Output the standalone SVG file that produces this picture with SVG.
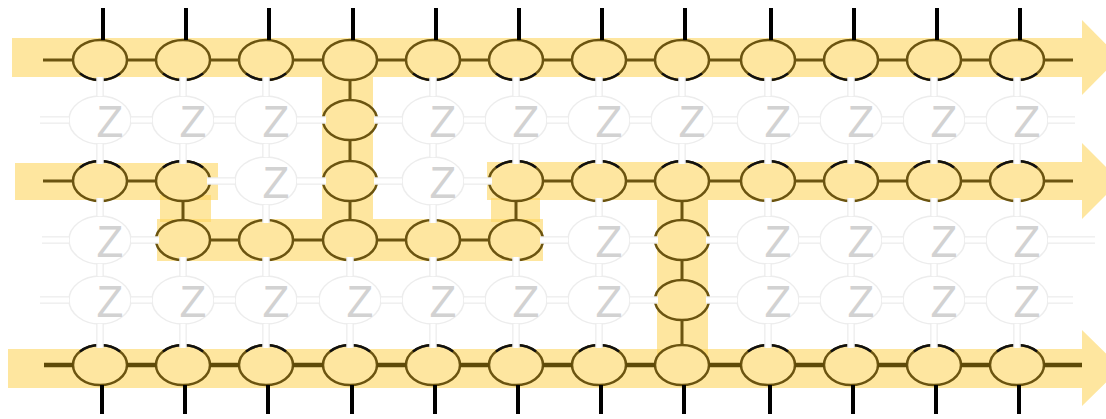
<svg xmlns="http://www.w3.org/2000/svg" xmlns:xlink="http://www.w3.org/1999/xlink" width="1106" height="419" viewBox="0 0 1106 419">
<style>
.band{fill:#fdd55f;fill-opacity:0.6}
.yn{fill:#fee6a0;stroke:#6b5410;stroke-width:2.5}
.gn{fill:#ffffff;stroke:#ededed;stroke-width:1.5}
.z{font-family:"Liberation Sans",Arial,sans-serif;font-size:44px;fill:#d2d2d2;text-anchor:middle}
.arc{fill:none;stroke:#111;stroke-width:2.5}
.dc{fill:none;stroke:#6b5410;stroke-width:3}
.dc6{fill:none;stroke:#5e4a08;stroke-width:4.5}
.lo{fill:none;stroke:#ececec;stroke-width:7.5}
.li{fill:none;stroke:#ffffff;stroke-width:5}
.bk{fill:none;stroke:#000;stroke-width:4}
</style>
<defs>
<path id="lc" d="M40 120H69M131 120H152M214 120H235M297 120H326M374 120H402M464 120H485M547 120H568M630 120H651M713 120H737M799 120H820M882 120H903M965 120H986M1048 120H1075
M207 181H235M297 181H326M374 181H402M464 181H492
M42 240H69M131 240H159M540 240H568M630 240H658M706 240H737M799 240H820M882 240H903M965 240H986M1048 240H1095
M40 300H69M131 300H152M214 300H235M297 300H319M381 300H402M464 300H485M547 300H568M630 300H658M706 300H737M799 300H820M882 300H903M965 300H986M1048 300H1073
M100 77V96M183 77V96M266 77V96M433 77V96M516 77V96M599 77V96M682 77V96M768 77V96M851 77V96M934 77V96M1017 77V96
M100 144V164M183 144V164M266 144V157M433 144V157M516 144V164M599 144V164M682 144V164M768 144V164M851 144V164M934 144V164M1017 144V164
M100 198V216M266 205V223M433 205V223M599 198V216M768 198V216M851 198V216M934 198V216M1017 198V216
M100 264V276M183 257V276M266 257V276M350 257V276M433 257V276M516 257V276M599 264V276M768 264V276M851 264V276M934 264V276M1017 264V276
M100 324V348M183 324V348M266 324V348M350 324V348M433 324V348M516 324V348M599 324V348M768 324V348M851 324V348M934 324V348M1017 324V348"/>
</defs>
<rect width="1106" height="419" fill="#ffffff"/>
<g id="bands">
<path class="band" d="M12 38H1082V20L1119 57.5L1082 95V77H12Z"/>
<rect class="band" x="15" y="163" width="203" height="37"/>
<path class="band" d="M487 162H1082V143L1120 181L1082 219V200H487Z"/>
<rect class="band" x="157" y="219" width="386" height="42"/>
<path class="band" d="M8 349H1082V330L1121 368L1082 406V388H8Z"/>
<rect class="band" x="322" y="77" width="51" height="142"/>
<rect class="band" x="160" y="195" width="51" height="27"/>
<rect class="band" x="491" y="198" width="49" height="24"/>
<rect class="band" x="657" y="200" width="51" height="157"/>
</g>
<g id="nodes">
<g id="n0-0"><ellipse class="yn" cx="100" cy="60" rx="27" ry="20"/><path class="arc" d="M80 73.4A27 20 0 0 0 120 73.4"/></g>
<g id="n0-1"><ellipse class="yn" cx="183" cy="60" rx="27" ry="20"/><path class="arc" d="M163 73.4A27 20 0 0 0 203 73.4"/></g>
<g id="n0-2"><ellipse class="yn" cx="266" cy="60" rx="27" ry="20"/><path class="arc" d="M246 73.4A27 20 0 0 0 286 73.4"/></g>
<g id="n0-3"><ellipse class="yn" cx="350" cy="60" rx="27" ry="20"/></g>
<g id="n0-4"><ellipse class="yn" cx="433" cy="60" rx="27" ry="20"/><path class="arc" d="M413 73.4A27 20 0 0 0 453 73.4"/></g>
<g id="n0-5"><ellipse class="yn" cx="516" cy="60" rx="27" ry="20"/><path class="arc" d="M496 73.4A27 20 0 0 0 536 73.4"/></g>
<g id="n0-6"><ellipse class="yn" cx="599" cy="60" rx="27" ry="20"/><path class="arc" d="M579 73.4A27 20 0 0 0 619 73.4"/></g>
<g id="n0-7"><ellipse class="yn" cx="682" cy="60" rx="27" ry="20"/><path class="arc" d="M662 73.4A27 20 0 0 0 702 73.4"/></g>
<g id="n0-8"><ellipse class="yn" cx="768" cy="60" rx="27" ry="20"/><path class="arc" d="M748 73.4A27 20 0 0 0 788 73.4"/></g>
<g id="n0-9"><ellipse class="yn" cx="851" cy="60" rx="27" ry="20"/><path class="arc" d="M831 73.4A27 20 0 0 0 871 73.4"/></g>
<g id="n0-10"><ellipse class="yn" cx="934" cy="60" rx="27" ry="20"/><path class="arc" d="M914 73.4A27 20 0 0 0 954 73.4"/></g>
<g id="n0-11"><ellipse class="yn" cx="1017" cy="60" rx="27" ry="20"/><path class="arc" d="M997 73.4A27 20 0 0 0 1037 73.4"/></g>

<g id="n1-0"><ellipse class="gn" cx="100" cy="120" rx="31" ry="24"/><text class="z" x="110" y="137">Z</text></g>
<g id="n1-1"><ellipse class="gn" cx="183" cy="120" rx="31" ry="24"/><text class="z" x="193" y="137">Z</text></g>
<g id="n1-2"><ellipse class="gn" cx="266" cy="120" rx="31" ry="24"/><text class="z" x="276" y="137">Z</text></g>
<g id="n1-3"><ellipse class="yn" cx="350" cy="120" rx="27" ry="20"/></g>
<g id="n1-4"><ellipse class="gn" cx="433" cy="120" rx="31" ry="24"/><text class="z" x="443" y="137">Z</text></g>
<g id="n1-5"><ellipse class="gn" cx="516" cy="120" rx="31" ry="24"/><text class="z" x="526" y="137">Z</text></g>
<g id="n1-6"><ellipse class="gn" cx="599" cy="120" rx="31" ry="24"/><text class="z" x="609" y="137">Z</text></g>
<g id="n1-7"><ellipse class="gn" cx="682" cy="120" rx="31" ry="24"/><text class="z" x="692" y="137">Z</text></g>
<g id="n1-8"><ellipse class="gn" cx="768" cy="120" rx="31" ry="24"/><text class="z" x="778" y="137">Z</text></g>
<g id="n1-9"><ellipse class="gn" cx="851" cy="120" rx="31" ry="24"/><text class="z" x="861" y="137">Z</text></g>
<g id="n1-10"><ellipse class="gn" cx="934" cy="120" rx="31" ry="24"/><text class="z" x="944" y="137">Z</text></g>
<g id="n1-11"><ellipse class="gn" cx="1017" cy="120" rx="31" ry="24"/><text class="z" x="1027" y="137">Z</text></g>

<g id="n2-0"><ellipse class="yn" cx="100" cy="181" rx="27" ry="20"/><path class="arc" d="M80 167.6A27 20 0 0 1 120 167.6"/></g>
<g id="n2-1"><ellipse class="yn" cx="183" cy="181" rx="27" ry="20"/><path class="arc" d="M163 167.6A27 20 0 0 1 203 167.6"/></g>
<g id="n2-2"><ellipse class="gn" cx="266" cy="181" rx="31" ry="24"/><text class="z" x="276" y="198">Z</text></g>
<g id="n2-3"><ellipse class="yn" cx="350" cy="181" rx="27" ry="20"/></g>
<g id="n2-4"><ellipse class="gn" cx="433" cy="181" rx="31" ry="24"/><text class="z" x="443" y="198">Z</text></g>
<g id="n2-5"><ellipse class="yn" cx="516" cy="181" rx="27" ry="20"/><path class="arc" d="M496 167.6A27 20 0 0 1 536 167.6"/></g>
<g id="n2-6"><ellipse class="yn" cx="599" cy="181" rx="27" ry="20"/><path class="arc" d="M579 167.6A27 20 0 0 1 619 167.6"/></g>
<g id="n2-7"><ellipse class="yn" cx="682" cy="181" rx="27" ry="20"/><path class="arc" d="M662 167.6A27 20 0 0 1 702 167.6"/></g>
<g id="n2-8"><ellipse class="yn" cx="768" cy="181" rx="27" ry="20"/><path class="arc" d="M748 167.6A27 20 0 0 1 788 167.6"/></g>
<g id="n2-9"><ellipse class="yn" cx="851" cy="181" rx="27" ry="20"/><path class="arc" d="M831 167.6A27 20 0 0 1 871 167.6"/></g>
<g id="n2-10"><ellipse class="yn" cx="934" cy="181" rx="27" ry="20"/><path class="arc" d="M914 167.6A27 20 0 0 1 954 167.6"/></g>
<g id="n2-11"><ellipse class="yn" cx="1017" cy="181" rx="27" ry="20"/><path class="arc" d="M997 167.6A27 20 0 0 1 1037 167.6"/></g>

<g id="n3-0"><ellipse class="gn" cx="100" cy="240" rx="31" ry="24"/><text class="z" x="110" y="257">Z</text></g>
<g id="n3-1"><ellipse class="yn" cx="183" cy="240" rx="27" ry="20"/></g>
<g id="n3-2"><ellipse class="yn" cx="266" cy="240" rx="27" ry="20"/></g>
<g id="n3-3"><ellipse class="yn" cx="350" cy="240" rx="27" ry="20"/></g>
<g id="n3-4"><ellipse class="yn" cx="433" cy="240" rx="27" ry="20"/></g>
<g id="n3-5"><ellipse class="yn" cx="516" cy="240" rx="27" ry="20"/></g>
<g id="n3-6"><ellipse class="gn" cx="599" cy="240" rx="31" ry="24"/><text class="z" x="609" y="257">Z</text></g>
<g id="n3-7"><ellipse class="yn" cx="682" cy="240" rx="27" ry="20"/></g>
<g id="n3-8"><ellipse class="gn" cx="768" cy="240" rx="31" ry="24"/><text class="z" x="778" y="257">Z</text></g>
<g id="n3-9"><ellipse class="gn" cx="851" cy="240" rx="31" ry="24"/><text class="z" x="861" y="257">Z</text></g>
<g id="n3-10"><ellipse class="gn" cx="934" cy="240" rx="31" ry="24"/><text class="z" x="944" y="257">Z</text></g>
<g id="n3-11"><ellipse class="gn" cx="1017" cy="240" rx="31" ry="24"/><text class="z" x="1027" y="257">Z</text></g>

<g id="n4-0"><ellipse class="gn" cx="100" cy="300" rx="31" ry="24"/><text class="z" x="110" y="317">Z</text></g>
<g id="n4-1"><ellipse class="gn" cx="183" cy="300" rx="31" ry="24"/><text class="z" x="193" y="317">Z</text></g>
<g id="n4-2"><ellipse class="gn" cx="266" cy="300" rx="31" ry="24"/><text class="z" x="276" y="317">Z</text></g>
<g id="n4-3"><ellipse class="gn" cx="350" cy="300" rx="31" ry="24"/><text class="z" x="360" y="317">Z</text></g>
<g id="n4-4"><ellipse class="gn" cx="433" cy="300" rx="31" ry="24"/><text class="z" x="443" y="317">Z</text></g>
<g id="n4-5"><ellipse class="gn" cx="516" cy="300" rx="31" ry="24"/><text class="z" x="526" y="317">Z</text></g>
<g id="n4-6"><ellipse class="gn" cx="599" cy="300" rx="31" ry="24"/><text class="z" x="609" y="317">Z</text></g>
<g id="n4-7"><ellipse class="yn" cx="682" cy="300" rx="27" ry="20"/></g>
<g id="n4-8"><ellipse class="gn" cx="768" cy="300" rx="31" ry="24"/><text class="z" x="778" y="317">Z</text></g>
<g id="n4-9"><ellipse class="gn" cx="851" cy="300" rx="31" ry="24"/><text class="z" x="861" y="317">Z</text></g>
<g id="n4-10"><ellipse class="gn" cx="934" cy="300" rx="31" ry="24"/><text class="z" x="944" y="317">Z</text></g>
<g id="n4-11"><ellipse class="gn" cx="1017" cy="300" rx="31" ry="24"/><text class="z" x="1027" y="317">Z</text></g>

<g id="n5-0"><ellipse class="yn" cx="100" cy="365" rx="27" ry="20"/><path class="arc" d="M80 351.6A27 20 0 0 1 120 351.6"/></g>
<g id="n5-1"><ellipse class="yn" cx="183" cy="365" rx="27" ry="20"/><path class="arc" d="M163 351.6A27 20 0 0 1 203 351.6"/></g>
<g id="n5-2"><ellipse class="yn" cx="266" cy="365" rx="27" ry="20"/><path class="arc" d="M246 351.6A27 20 0 0 1 286 351.6"/></g>
<g id="n5-3"><ellipse class="yn" cx="350" cy="365" rx="27" ry="20"/><path class="arc" d="M330 351.6A27 20 0 0 1 370 351.6"/></g>
<g id="n5-4"><ellipse class="yn" cx="433" cy="365" rx="27" ry="20"/><path class="arc" d="M413 351.6A27 20 0 0 1 453 351.6"/></g>
<g id="n5-5"><ellipse class="yn" cx="516" cy="365" rx="27" ry="20"/><path class="arc" d="M496 351.6A27 20 0 0 1 536 351.6"/></g>
<g id="n5-6"><ellipse class="yn" cx="599" cy="365" rx="27" ry="20"/><path class="arc" d="M579 351.6A27 20 0 0 1 619 351.6"/></g>
<g id="n5-7"><ellipse class="yn" cx="682" cy="365" rx="27" ry="20"/></g>
<g id="n5-8"><ellipse class="yn" cx="768" cy="365" rx="27" ry="20"/><path class="arc" d="M748 351.6A27 20 0 0 1 788 351.6"/></g>
<g id="n5-9"><ellipse class="yn" cx="851" cy="365" rx="27" ry="20"/><path class="arc" d="M831 351.6A27 20 0 0 1 871 351.6"/></g>
<g id="n5-10"><ellipse class="yn" cx="934" cy="365" rx="27" ry="20"/><path class="arc" d="M914 351.6A27 20 0 0 1 954 351.6"/></g>
<g id="n5-11"><ellipse class="yn" cx="1017" cy="365" rx="27" ry="20"/><path class="arc" d="M997 351.6A27 20 0 0 1 1037 351.6"/></g>
</g>
<g id="connectors">
<use xlink:href="#lc" href="#lc" class="lo"/>
<use xlink:href="#lc" href="#lc" class="li"/>
<path class="dc" d="M43 60H73M127 60H156M210 60H239M293 60H323M377 60H406M460 60H489M543 60H572M626 60H655M709 60H741M795 60H824M878 60H907M961 60H990M1044 60H1073
M43 181H73M127 181H156M543 181H572M626 181H655M709 181H741M795 181H824M878 181H907M961 181H990M1044 181H1073
M210 240H239M293 240H323M377 240H406M460 240H489
M350 80V100M350 140V161M350 201V220M183 201V220M516 201V220M682 201V220M682 260V280M682 320V345"/>
<path class="dc6" d="M44 365H73M127 365H156M210 365H239M293 365H323M377 365H406M460 365H489M543 365H572M626 365H655M709 365H741M795 365H824M878 365H907M961 365H990M1044 365H1082"/>
<path class="bk" d="M103 8V40M186 8V40M269 8V40M353 8V40M436 8V40M519 8V40M602 8V40M685 8V40M771 8V40M854 8V40M937 8V40M1020 8V40
M102 385V414M185 385V414M268 385V414M352 385V414M435 385V414M518 385V414M601 385V414M684 385V414M770 385V414M853 385V414M936 385V414M1019 385V414"/>
</g>
</svg>
